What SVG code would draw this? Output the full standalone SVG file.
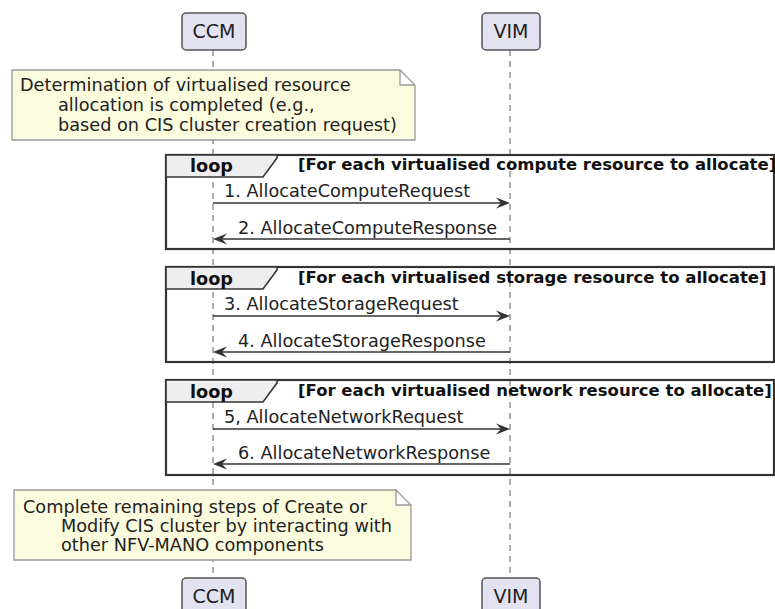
<svg xmlns="http://www.w3.org/2000/svg" width="775" height="609" viewBox="0 0 775 609">
<style>
.part rect{fill:#E2E2F0;stroke:#555;stroke-width:1.5}
.part text{font-family:"DejaVu Sans",sans-serif;font-size:19px;fill:#222;text-anchor:middle}
.life{stroke:#777;stroke-width:1.2;stroke-dasharray:6,5;fill:none}
.note path{fill:#FBFBDE;stroke:#999;stroke-width:1.3}
.note text,.msg text{font-family:"DejaVu Sans",sans-serif;font-size:17.7px;fill:#222}
.loop .frame{fill:none;stroke:#333;stroke-width:2.2}
.loop .tab{fill:#EEEEEE;stroke:#333;stroke-width:1.6}
.loop .kw{font-family:"DejaVu Sans",sans-serif;font-weight:bold;font-size:17.7px;fill:#111}
.loop .cond{font-family:"DejaVu Sans",sans-serif;font-weight:bold;font-size:16.5px;fill:#111}
.msg line{stroke:#333;stroke-width:1.4}
.msg polygon{fill:#333}
</style>
<rect width="775" height="609" fill="#fff"/>
<g id="lifelines">
<line class="life" x1="213" y1="50" x2="213" y2="578"/>
<line class="life" x1="510" y1="50" x2="510" y2="578"/>
</g>
<g id="CCM-top" class="part"><rect x="182" y="13" width="64" height="37" rx="4"/><text x="214" y="38">CCM</text></g>
<g id="VIM-top" class="part"><rect x="482" y="13" width="58" height="37" rx="4"/><text x="511" y="38">VIM</text></g>
<g id="note1" class="note">
<path d="M12,70 H400 L415,85 V140 H12 Z M400,70 V85 H415"/>
<text x="20" y="91">Determination of virtualised resource</text>
<text x="58" y="111">allocation is completed (e.g.,</text>
<text x="58" y="131">based on CIS cluster creation request)</text>
</g>
<g id="loop1" class="loop">
<rect class="frame" x="166" y="155" width="608" height="94"/>
<path class="tab" d="M166,155 H277 V158 L263,177 H166 Z"/>
<text class="kw" x="190" y="172">loop</text>
<text class="cond" x="298" y="170">[For each virtualised compute resource to allocate]</text>
</g>
<g id="loop2" class="loop">
<rect class="frame" x="166" y="267" width="608" height="95"/>
<path class="tab" d="M166,267 H277 V270 L263,289 H166 Z"/>
<text class="kw" x="190" y="285">loop</text>
<text class="cond" x="298" y="283">[For each virtualised storage resource to allocate]</text>
</g>
<g id="loop3" class="loop">
<rect class="frame" x="166" y="380" width="608" height="95"/>
<path class="tab" d="M166,380 H277 V383 L263,402 H166 Z"/>
<text class="kw" x="190" y="398">loop</text>
<text class="cond" x="298" y="396">[For each virtualised network resource to allocate]</text>
</g>
<g id="connectors" class="msg">
<line x1="213" y1="203" x2="506" y2="203"/><polygon points="510,203 496,197.5 501,203 496,208.5"/>
<text x="224" y="197">1. AllocateComputeRequest</text>
<line x1="217" y1="239" x2="510" y2="239"/><polygon points="213,239 227,233.5 222,239 227,244.5"/>
<text x="238" y="234">2. AllocateComputeResponse</text>
<line x1="213" y1="316" x2="506" y2="316"/><polygon points="510,316 496,310.5 501,316 496,321.5"/>
<text x="224" y="310">3. AllocateStorageRequest</text>
<line x1="217" y1="352" x2="510" y2="352"/><polygon points="213,352 227,346.5 222,352 227,357.5"/>
<text x="238" y="347">4. AllocateStorageResponse</text>
<line x1="213" y1="429" x2="506" y2="429"/><polygon points="510,429 496,423.5 501,429 496,434.5"/>
<text x="224" y="423">5, AllocateNetworkRequest</text>
<line x1="217" y1="464" x2="510" y2="464"/><polygon points="213,464 227,458.5 222,464 227,469.5"/>
<text x="238" y="459">6. AllocateNetworkResponse</text>
</g>
<g id="note2" class="note">
<path d="M14,490 H396 L411,505 V560 H14 Z M396,490 V505 H411"/>
<text x="23" y="513">Complete remaining steps of Create or</text>
<text x="61" y="532">Modify CIS cluster by interacting with</text>
<text x="61" y="551">other NFV-MANO components</text>
</g>
<g id="CCM-bottom" class="part"><rect x="182" y="578" width="64" height="37" rx="4"/><text x="214" y="603">CCM</text></g>
<g id="VIM-bottom" class="part"><rect x="482" y="578" width="58" height="37" rx="4"/><text x="511" y="603">VIM</text></g>
</svg>
